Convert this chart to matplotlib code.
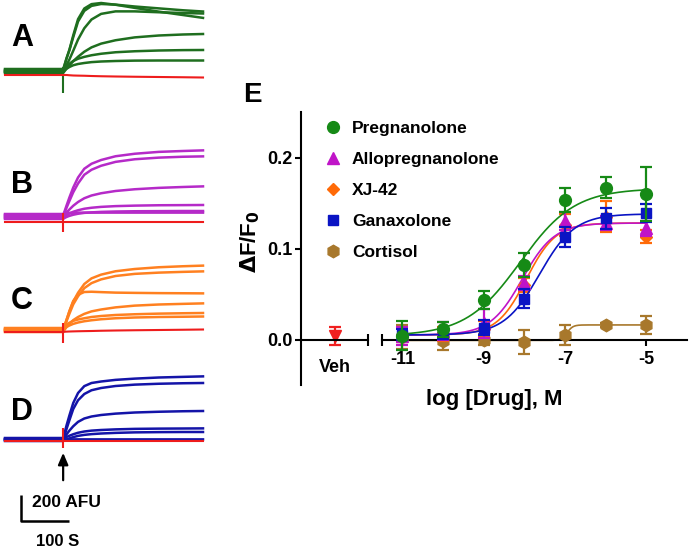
import numpy as np
import matplotlib
matplotlib.use("Agg")
from matplotlib import pyplot as plt
from matplotlib.lines import Line2D

plt.rcParams['font.family'] = ['Liberation Sans', 'DejaVu Sans']
plt.rcParams['font.weight'] = 'bold'
plt.rcParams['mathtext.default'] = 'bf'

W, H = 690, 549

# ---------------- traces (AFU above baseline, time in s) ----------------
t_s = [0, 119, 121, 124, 128, 134, 142, 152, 165, 180, 200, 230, 270, 320, 370, 412]
onset_s = 121

traces_A = [
    [0, 0, 0, 35, 85, 150, 255, 380, 465, 505, 520, 515, 500, 485, 470, 460],
    [0, 0, 0, 45, 100, 170, 285, 415, 500, 535, 544, 530, 505, 475, 448, 425],
    [0, 0, 0, 25, 55, 100, 170, 260, 350, 420, 465, 485, 485, 478, 472, 468],
    [0, 0, 0, 15, 35, 60, 95, 130, 170, 205, 235, 262, 285, 300, 308, 312],
    [0, 0, 0, 12, 28, 50, 72, 90, 105, 118, 130, 142, 150, 156, 159, 160],
    [0, 0, 0, 10, 22, 36, 50, 60, 68, 75, 80, 84, 87, 88, 88, 88],
]
base_A = [32, 16, 8, 0, 24, 12]
red_A = [0, 0, 0, 0, 0, -2, -4, -5, -6, -8, -10, -12, -14, -16, -18, -20]
red_base_A = -16
spike_A = (-160, 50)

traces_B = [
    [0, 0, 0, 30, 75, 140, 220, 300, 370, 410, 440, 470, 490, 505, 512, 517],
    [0, 0, 0, 25, 65, 120, 190, 260, 330, 370, 402, 433, 454, 467, 474, 477],
    [0, 0, 0, 15, 35, 60, 90, 120, 150, 172, 190, 208, 222, 233, 240, 245],
    [0, 0, 0, 10, 22, 35, 50, 62, 74, 82, 89, 95, 99, 102, 103, 104],
    [0, 0, 0, 8, 16, 25, 34, 42, 49, 53, 57, 60, 62, 63, 64, 64],
    [0, 0, 0, 4, 7, 9, 10, 11, 11, 11, 11, 11, 11, 11, 11, 11],
]
base_B = [24, 16, 8, 0, -8, 32]
red_B = [0] * 16
red_base_B = -29
spike_B = (-110, 40)

traces_C = [
    [0, 0, 0, 30, 75, 140, 220, 290, 360, 405, 435, 462, 480, 494, 502, 507],
    [0, 0, 0, 28, 70, 130, 205, 270, 335, 375, 405, 432, 449, 459, 465, 469],
    [0, 0, 0, 35, 85, 160, 240, 290, 312, 314, 311, 307, 305, 303, 302, 301],
    [0, 0, 0, 18, 40, 65, 95, 120, 145, 165, 180, 197, 211, 220, 225, 229],
    [0, 0, 0, 12, 28, 42, 57, 68, 78, 88, 96, 104, 110, 115, 118, 120],
    [0, 0, 0, 10, 24, 36, 49, 60, 70, 78, 86, 94, 100, 104, 106, 108],
]
base_C = [16, 8, 0, -8, 24, 8]
red_C = [0, 0, 0, 2, 3, 4, 5, 6, 7, 8, 10, 12, 14, 16, 18, 20]
red_base_C = -8
spike_C = (-96, 64)

traces_D = [
    [0, 0, 0, 40, 100, 180, 280, 360, 415, 440, 452, 465, 475, 484, 489, 493],
    [0, 0, 0, 30, 80, 150, 240, 310, 360, 390, 408, 424, 435, 442, 446, 448],
    [0, 0, 0, 20, 45, 75, 110, 145, 172, 188, 200, 211, 220, 226, 230, 232],
    [0, 0, 0, 8, 16, 26, 38, 50, 60, 67, 72, 77, 81, 83, 84, 85],
    [0, 0, 0, 6, 13, 21, 31, 41, 49, 55, 60, 65, 69, 71, 72, 72],
    [0, 0, 0, 2, 3, 4, 5, 5, 5, 5, 5, 5, 5, 5, 5, 5],
]
base_D = [16, 8, 0, 8, -8, 0]
red_D = [0] * 16
red_base_D = -5
spike_D = (-64, 96)

panel_letters = ["A", "B", "C", "D"]
trace_colors = ["#1f6e1f", "#b52ac8", "#ff8020", "#1414a8"]
red_trace = "#ee1c1c"

# ---------------- dose response ----------------
log_dose = [-11, -10, -9, -8, -7, -6, -5]
compounds = ["Pregnanolone", "Allopregnanolone", "XJ-42", "Ganaxolone", "Cortisol"]
means = {
    "Pregnanolone":     [0.004, 0.011, 0.043, 0.082, 0.153, 0.167, 0.160],
    "Allopregnanolone": [0.004, 0.009, 0.018, 0.062, 0.130, 0.128, 0.122],
    "XJ-42":            [0.005, 0.006, 0.012, 0.060, 0.126, 0.135, 0.113],
    "Ganaxolone":       [0.005, 0.006, 0.013, 0.045, 0.113, 0.133, 0.139],
    "Cortisol":         [0.003, -0.002, 0.000, -0.003, 0.005, 0.016, 0.016],
}
errs = {
    "Pregnanolone":     [0.016, 0.008, 0.010, 0.013, 0.013, 0.012, 0.030],
    "Allopregnanolone": [0.010, 0.010, 0.016, 0.008, 0.010, 0.008, 0.008],
    "XJ-42":            [0.008, 0.008, 0.008, 0.008, 0.012, 0.017, 0.007],
    "Ganaxolone":       [0.006, 0.005, 0.008, 0.010, 0.011, 0.012, 0.010],
    "Cortisol":         [0.013, 0.009, 0.006, 0.013, 0.011, 0.002, 0.010],
}
# Hill fit (bottom, top, logEC50, slope)
fits = {
    "Pregnanolone":     (0.004, 0.166, -8.1, 0.65),
    "Allopregnanolone": (0.005, 0.128, -8.05, 1.1),
    "XJ-42":            (0.005, 0.128, -7.95, 1.2),
    "Ganaxolone":       (0.005, 0.138, -7.63, 1.0),
    "Cortisol":         (-0.001, 0.016, -6.95, 6.0),
}
colors = {
    "Pregnanolone": "#168a16",
    "Allopregnanolone": "#c014c8",
    "XJ-42": "#ff6a08",
    "Ganaxolone": "#0a14c4",
    "Cortisol": "#a8782c",
}
markers = {
    "Pregnanolone": ("o", 8.5),
    "Allopregnanolone": ("^", 8),
    "XJ-42": ("D", 6.5),
    "Ganaxolone": ("s", 7),
    "Cortisol": ("h", 9),
}
draw_order = ["Cortisol", "XJ-42", "Allopregnanolone", "Ganaxolone", "Pregnanolone"]
veh_mean = 0.004
veh_err = 0.010
veh_color = "#f02020"

fig = plt.figure(figsize=(W / 100, H / 100), dpi=100)


def px_axes(x0, y0, x1, y1):
    return fig.add_axes([x0 / W, 1 - y1 / H, (x1 - x0) / W, (y1 - y0) / H])


# ---------------- trace panels ----------------
panels = [
    (traces_A, base_A, red_A, red_base_A, spike_A, 73, (22, 38)),
    (traces_B, base_B, red_B, red_base_B, spike_B, 218, (22, 185)),
    (traces_C, base_C, red_C, red_base_C, spike_C, 331, (22, 301)),
    (traces_D, base_D, red_D, red_base_D, spike_D, 440, (22, 412)),
]
trace_axes = []
for i, (trs, bases, red, red_base, spike, base_px, lab) in enumerate(panels):
    ax = px_axes(5, base_px - 73, 203, base_px + 27)
    ax.set_xlim(0, 412)
    ax.set_ylim(-216, 584)
    ax.axis("off")
    for tr, b in zip(trs, bases):
        ax.plot(t_s, np.array(tr) + b, color=trace_colors[i], lw=1.8, clip_on=False)
    ax.vlines(onset_s, spike[0], spike[1], color=trace_colors[i] if i == 0 else red_trace,
              lw=1.5, clip_on=False)
    ax.plot(t_s, np.array(red) + red_base, color=red_trace, lw=1.5, clip_on=False)
    fig.text(lab[0] / W, 1 - lab[1] / H, panel_letters[i], fontsize=22,
             ha="center", va="center", fontweight="bold")
    trace_axes.append(ax)

axD = trace_axes[3]
axD.annotate("", xy=(onset_s, -80), xytext=(onset_s, -344), annotation_clip=False,
             arrowprops=dict(arrowstyle="-|>,head_length=0.7,head_width=0.3",
                             color="black", lw=1.6))
# scale bar: 200 AFU / 100 s
axD.plot([33, 33, 133], [-440, -648, -648], color="black", lw=1.8, clip_on=False,
         solid_capstyle="butt")
axD.text(56, -500, "200 AFU", fontsize=12.5, ha="left", va="center", fontweight="bold")
axD.text(109, -812, "100 S", fontsize=12, ha="center", va="center", fontweight="bold")

# ---------------- dose-response panel ----------------
y0, y1 = -0.05, 0.25
axV = px_axes(301, 112, 368, 385)
axM = px_axes(382, 112, 687, 385)
for ax in (axV, axM):
    ax.set_ylim(y0, y1)
    ax.patch.set_alpha(0)
    ax.spines["top"].set_visible(False)
    ax.spines["right"].set_visible(False)
    ax.spines["bottom"].set_position(("data", 0))
    for s in ax.spines.values():
        s.set_linewidth(1.5)

axV.set_xlim(0, 1)
axV.set_yticks([0, 0.1, 0.2])
axV.set_yticklabels(["0.0", "0.1", "0.2"])
axV.tick_params(axis="y", length=4, width=1.5, labelsize=13, pad=2)
axV.set_xticks([])
axV.set_xticks([1], minor=True)
axV.tick_params(axis="x", which="minor", direction="inout", length=9, width=1.5)
axV.errorbar([0.51], [veh_mean], yerr=[veh_err], fmt="v", color=veh_color, ms=8,
             capsize=4.5, elinewidth=1.6, capthick=1.6, clip_on=False)

axM.spines["left"].set_visible(False)
axM.set_yticks([])
axM.set_xlim(-11.5, -4.0)
axM.set_xticks([-11, -9, -7, -5])
axM.set_xticklabels(["-11", "-9", "-7", "-5"])
axM.set_xticks([-11.5], minor=True)
axM.tick_params(axis="x", which="major", direction="out", length=4, width=1.5,
                labelsize=13, pad=4)
axM.tick_params(axis="x", which="minor", direction="inout", length=9, width=1.5)

xs = np.linspace(-11, -5, 300)
for k, name in enumerate(draw_order):
    bot, top, ec, n = fits[name]
    curve = bot + (top - bot) / (1 + 10 ** ((ec - xs) * n))
    axM.plot(xs, curve, color=colors[name], lw=1.2, zorder=2 + k)
    m, ms = markers[name]
    axM.errorbar(log_dose, means[name], yerr=errs[name], fmt=m, color=colors[name],
                 ms=ms, capsize=4.5, elinewidth=1.6, capthick=1.6, zorder=3 + k,
                 clip_on=False)

handles = [Line2D([], [], marker=markers[c][0], color=colors[c], linestyle="none",
                  markersize=markers[c][1]) for c in compounds]
fig.legend(handles, compounds, loc="upper left", bbox_to_anchor=(324 / W, 1 - 120.5 / H),
           frameon=False, fontsize=12.5, handlelength=1.0, handletextpad=0.6,
           labelspacing=0.92, borderpad=0, borderaxespad=0)

fig.text(335 / W, 1 - 368 / H, "Veh", fontsize=13, ha="center", va="center",
         fontweight="bold")
fig.text(494 / W, 1 - 399 / H, "log [Drug], M", fontsize=16, ha="center", va="center",
         fontweight="bold")
fig.text(250 / W, 1 - 242 / H, r"$\Delta$F/F$_0$", fontsize=16, ha="center",
         va="center", rotation=90, fontweight="bold")
fig.text(252 / W, 1 - 95 / H, "E", fontsize=20, ha="center", va="center",
         fontweight="bold")

fig.savefig("out.png", dpi=100)
